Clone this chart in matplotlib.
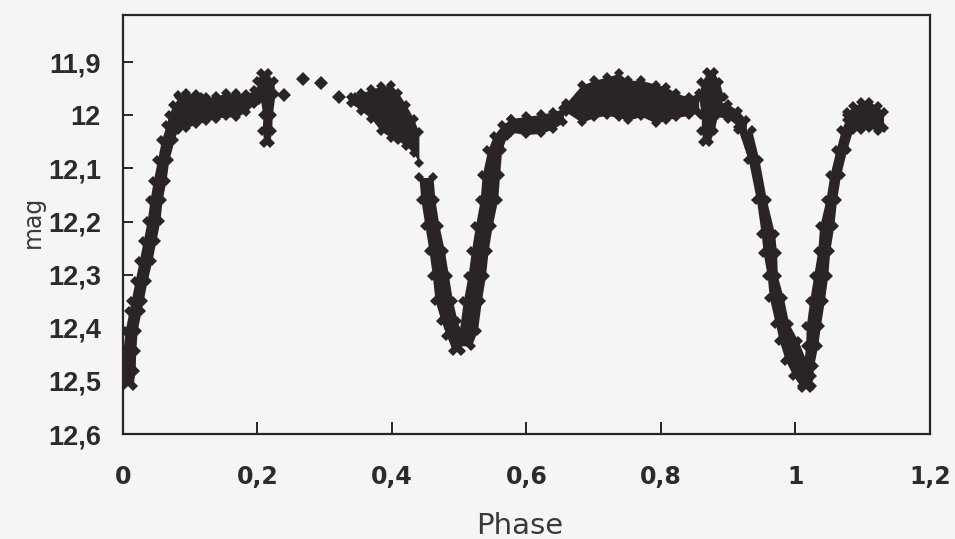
import numpy as np
import matplotlib.pyplot as plt

# light curve: each band is given by its envelope
# primary egress near phase 0
egress_mag = [12.509, 12.481, 12.443, 12.406, 12.368, 12.349, 12.311, 12.274, 12.236,
              12.198, 12.160, 12.123, 12.085, 12.047, 12.019, 12.000, 11.981, 11.966]
egress_left = [0.000, 0.000, 0.000, 0.003, 0.009, 0.012, 0.018, 0.024, 0.030,
               0.036, 0.040, 0.045, 0.051, 0.057, 0.064, 0.068, 0.074, 0.083]
egress_right = [0.015, 0.018, 0.019, 0.021, 0.027, 0.030, 0.036, 0.043, 0.049,
                0.055, 0.058, 0.064, 0.068, 0.076, 0.083, 0.091, 0.101, 0.116]

# first maximum
plat1_phase = [0.082, 0.094, 0.109, 0.124, 0.138, 0.153, 0.168, 0.183, 0.195, 0.202]
plat1_top = [11.962, 11.958, 11.960, 11.966, 11.964, 11.958, 11.958, 11.960, 11.953, 11.938]
plat1_bot = [12.028, 12.023, 12.017, 12.011, 12.006, 12.002, 12.004, 11.993, 11.979, 11.972]

spike1_mag = [11.921, 11.935, 11.960, 12.000, 12.030, 12.052]
spike1_left = [0.205, 0.199, 0.203, 0.208, 0.207, 0.210]
spike1_right = [0.215, 0.224, 0.226, 0.222, 0.221, 0.218]

# sparse points
gap_phase = [0.240, 0.268, 0.295, 0.321, 0.345]
gap_mag = [11.962, 11.932, 11.940, 11.966, 11.970]

blob_phase = [0.339, 0.354, 0.369, 0.384, 0.399, 0.409, 0.421, 0.432, 0.440]
blob_top = [11.966, 11.958, 11.951, 11.945, 11.943, 11.957, 11.981, 12.006, 12.032]
blob_bot = [11.977, 11.991, 12.006, 12.030, 12.042, 12.047, 12.058, 12.070, 12.089]

# secondary minimum
sec_in_mag = [12.117, 12.160, 12.208, 12.255, 12.302, 12.349, 12.387, 12.415, 12.443]
sec_in_left = [0.440, 0.443, 0.449, 0.455, 0.460, 0.464, 0.473, 0.481, 0.490]
sec_in_right = [0.461, 0.464, 0.470, 0.478, 0.484, 0.490, 0.497, 0.504, 0.502]

sec_out_mag = [12.434, 12.406, 12.349, 12.302, 12.255, 12.208, 12.160, 12.113,
               12.066, 12.038, 12.019, 12.006]
sec_out_left = [0.496, 0.500, 0.506, 0.513, 0.518, 0.524, 0.531, 0.534,
                0.542, 0.551, 0.563, 0.577]
sec_out_right = [0.518, 0.527, 0.533, 0.539, 0.543, 0.549, 0.557, 0.560,
                 0.563, 0.571, 0.585, 0.604]

sh1_phase = [0.577, 0.600, 0.622, 0.640, 0.655]
sh1_top = [12.006, 12.002, 11.998, 11.993, 11.987]
sh1_bot = [12.032, 12.036, 12.034, 12.025, 12.013]

# second maximum
plat2_phase = [0.659, 0.682, 0.701, 0.719, 0.737, 0.751, 0.771, 0.793, 0.808, 0.823, 0.841, 0.856]
plat2_top = [11.977, 11.943, 11.934, 11.928, 11.921, 11.934, 11.934, 11.942, 11.947, 11.958, 11.966, 11.957]
plat2_bot = [11.994, 12.013, 12.004, 12.000, 12.004, 12.009, 12.002, 12.015, 12.009, 12.004, 12.000, 11.996]

spike2_mag = [11.919, 11.938, 11.966, 12.000, 12.030, 12.051]
spike2_left = [0.869, 0.860, 0.856, 0.860, 0.860, 0.863]
spike2_right = [0.879, 0.887, 0.893, 0.884, 0.879, 0.872]

sh2_phase = [0.882, 0.900, 0.915, 0.927]
sh2_top = [11.972, 11.979, 11.991, 12.009]
sh2_bot = [12.002, 12.006, 12.021, 12.043]

# primary minimum at phase 1
pri_in_mag = [12.028, 12.085, 12.160, 12.223, 12.260, 12.302, 12.343, 12.392, 12.425, 12.462, 12.491, 12.513]
pri_in_left = [0.915, 0.930, 0.942, 0.949, 0.952, 0.958, 0.961, 0.970, 0.976, 0.985, 0.997, 1.009]
pri_in_right = [0.935, 0.946, 0.957, 0.969, 0.972, 0.973, 0.982, 0.990, 1.004, 1.016, 1.024, 1.021]

pri_out_mag = [12.509, 12.472, 12.434, 12.396, 12.349, 12.302, 12.255, 12.208, 12.160,
               12.113, 12.066, 12.028, 12.000]
pri_out_left = [1.009, 1.012, 1.015, 1.016, 1.021, 1.027, 1.033, 1.036, 1.045,
                1.051, 1.060, 1.068, 1.077]
pri_out_right = [1.024, 1.027, 1.033, 1.037, 1.043, 1.048, 1.051, 1.057, 1.061,
                 1.067, 1.076, 1.085, 1.101]

bulb_phase = [1.077, 1.086, 1.098, 1.110, 1.122, 1.131]
bulb_top = [11.994, 11.983, 11.975, 11.974, 11.983, 11.994]
bulb_bot = [12.009, 12.023, 12.028, 12.023, 12.030, 12.023]

xticks = [0, 0.2, 0.4, 0.6, 0.8, 1.0, 1.2]
xlabels = ['0', '0,2', '0,4', '0,6', '0,8', '1', '1,2']
yticks = [11.9, 12.0, 12.1, 12.2, 12.3, 12.4, 12.5, 12.6]
ylabels = ['11,9', '12', '12,1', '12,2', '12,3', '12,4', '12,5', '12,6']

ink = '#2b2424'
paper = '#f5f5f7'

fig = plt.figure(figsize=(9.55, 5.39), dpi=100, facecolor=paper)
ax = fig.add_axes([0.1288, 0.1948, 0.845, 0.7774])
ax.set_facecolor(paper)


def vband(mag, left, right):
    ax.fill_betweenx(mag, left, right, color=ink, lw=0)
    ax.plot(left, mag, 'D', ms=5, color=ink, mew=0)
    ax.plot(right, mag, 'D', ms=5, color=ink, mew=0)


def hband(ph, top, bot):
    ax.fill_between(ph, top, bot, color=ink, lw=0)
    ax.plot(ph, top, 'D', ms=5, color=ink, mew=0)
    ax.plot(ph, bot, 'D', ms=5, color=ink, mew=0)


vband(egress_mag, egress_left, egress_right)
hband(plat1_phase, plat1_top, plat1_bot)
vband(spike1_mag, spike1_left, spike1_right)
ax.plot(gap_phase, gap_mag, 'D', ms=7.5, color=ink, mew=0)
hband(blob_phase, blob_top, blob_bot)
vband(sec_in_mag, sec_in_left, sec_in_right)
vband(sec_out_mag, sec_out_left, sec_out_right)
hband(sh1_phase, sh1_top, sh1_bot)
hband(plat2_phase, plat2_top, plat2_bot)
vband(spike2_mag, spike2_left, spike2_right)
hband(sh2_phase, sh2_top, sh2_bot)
vband(pri_in_mag, pri_in_left, pri_in_right)
vband(pri_out_mag, pri_out_left, pri_out_right)
hband(bulb_phase, bulb_top, bulb_bot)

ax.set_xlim(0, 1.2)
ax.set_ylim(12.6, 11.811)
ax.set_xticks(xticks)
ax.set_xticklabels(xlabels, fontfamily='DejaVu Sans', fontweight='bold', fontsize=17, color='#2e2a2a')
ax.set_yticks(yticks)
ax.set_yticklabels(ylabels, fontfamily='Liberation Sans', fontweight='bold', fontsize=19.5, color='#2e2a2a')
ax.tick_params(axis='x', direction='in', length=8.6, width=1.4, pad=22, color=ink)
ax.tick_params(axis='y', direction='in', length=7, width=1.4, pad=16, color=ink)
for s in ax.spines.values():
    s.set_linewidth(1.6)
    s.set_color(ink)

ax.set_xlabel('Phase', fontsize=21, color='#3a3838')
ax.xaxis.set_label_coords(0.491, -0.186)
ax.set_ylabel('mag', fontsize=17, color='#3a3838')
ax.yaxis.set_label_coords(-0.0967, 0.506)

fig.savefig('out.png', dpi=100, facecolor=paper)
